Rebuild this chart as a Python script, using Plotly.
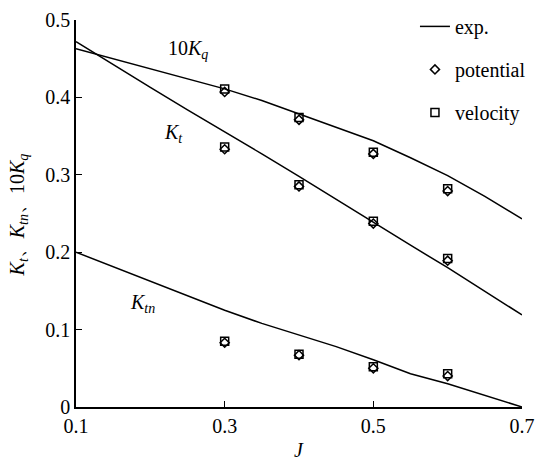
import plotly.graph_objects as go

# Experimental curves
J_exp = [0.1, 0.15, 0.2, 0.25, 0.3, 0.35, 0.4, 0.45, 0.5, 0.55, 0.6, 0.65, 0.7]
Kq10_exp = [0.463, 0.450, 0.437, 0.424, 0.411, 0.396, 0.379, 0.362, 0.344, 0.322, 0.299, 0.272, 0.243]
Kt_exp = [0.472, 0.442, 0.413, 0.384, 0.356, 0.327, 0.298, 0.268, 0.238, 0.209, 0.180, 0.150, 0.119]
Ktn_exp = [0.200, 0.181, 0.163, 0.144, 0.125, 0.108, 0.093, 0.078, 0.061, 0.043, 0.030, 0.015, 0.000]

# Computed points
J_pts = [0.3, 0.4, 0.5, 0.6]
Kq10_pot = [0.407, 0.371, 0.327, 0.279]
Kt_pot = [0.333, 0.285, 0.237, 0.189]
Ktn_pot = [0.083, 0.067, 0.050, 0.040]
Kq10_vel = [0.411, 0.374, 0.329, 0.282]
Kt_vel = [0.336, 0.287, 0.240, 0.192]
Ktn_vel = [0.085, 0.068, 0.052, 0.043]

x_ticks = [0.1, 0.3, 0.5, 0.7]
x_tick_text = ["0.1", "0.3", "0.5", "0.7"]
y_ticks = [0, 0.1, 0.2, 0.3, 0.4, 0.5]
y_tick_text = ["0", "0.1", "0.2", "0.3", "0.4", "0.5"]

FONT = "'Liberation Serif', 'Times New Roman', Times, serif"

fig = go.Figure()
for i, ys in enumerate([Kq10_exp, Kt_exp, Ktn_exp]):
    fig.add_trace(go.Scatter(x=J_exp, y=ys, mode="lines", name="exp.",
                             line=dict(color="black", width=1.5),
                             legendgroup="exp", showlegend=(i == 0)))
for i, ys in enumerate([Kq10_pot, Kt_pot, Ktn_pot]):
    fig.add_trace(go.Scatter(x=J_pts, y=ys, mode="markers", name="potential",
                             marker=dict(symbol="diamond-open", size=7, color="black",
                                         line=dict(width=1.5, color="black")),
                             legendgroup="pot", showlegend=(i == 0)))
for i, ys in enumerate([Kq10_vel, Kt_vel, Ktn_vel]):
    fig.add_trace(go.Scatter(x=J_pts, y=ys, mode="markers", name="velocity",
                             marker=dict(symbol="square-open", size=8, color="black",
                                         line=dict(width=1.5, color="black")),
                             legendgroup="vel", showlegend=(i == 0)))

ann_font = dict(family=FONT, size=20, color="black")
fig.add_annotation(x=0.251, y=0.462, text="10<i>K</i><sub><i>q</i></sub>", showarrow=False, font=ann_font)
fig.add_annotation(x=0.231, y=0.354, text="<i>K</i><sub><i>t</i></sub>", showarrow=False, font=ann_font)
fig.add_annotation(x=0.19, y=0.134, text="<i>K</i><sub><i>tn</i></sub>", showarrow=False, font=ann_font)
fig.add_annotation(xref="paper", yref="paper", x=-0.13, y=0.495, xanchor="center", yanchor="middle",
                   textangle=-90,
                   text="<i>K</i><sub><i>t</i></sub>、<i>K</i><sub><i>tn</i></sub>、10<i>K</i><sub><i>q</i></sub>",
                   showarrow=False, font=ann_font)
fig.add_annotation(xref="paper", yref="paper", x=0.5, y=-0.112, xanchor="center", yanchor="middle",
                   text="<i>J</i>", showarrow=False, font=ann_font)

fig.update_layout(
    width=537, height=460,
    margin=dict(l=76, r=15, t=20, b=53, autoexpand=False),
    paper_bgcolor="white", plot_bgcolor="white",
    font=dict(family=FONT, size=20, color="black"),
    showlegend=True,
    legend=dict(x=0.76, y=0.985, xanchor="left", yanchor="top", yref="container",
                bgcolor="rgba(0,0,0,0)", font=dict(family=FONT, size=20),
                tracegroupgap=14),
    xaxis=dict(range=[0.1, 0.7], tickvals=x_ticks, ticktext=x_tick_text, automargin=False,
               showline=True, linecolor="black", linewidth=1.5, ticks="inside",
               ticklen=6, tickcolor="black", showgrid=False, zeroline=False,
               tickfont=dict(family=FONT, size=20)),
    yaxis=dict(range=[0, 0.5], tickvals=y_ticks, ticktext=y_tick_text, automargin=False,
               showline=True, linecolor="black", linewidth=1.5, ticks="inside",
               ticklen=6, tickcolor="black", showgrid=False, zeroline=False,
               tickfont=dict(family=FONT, size=20)),
)

fig.write_html("out.html")
